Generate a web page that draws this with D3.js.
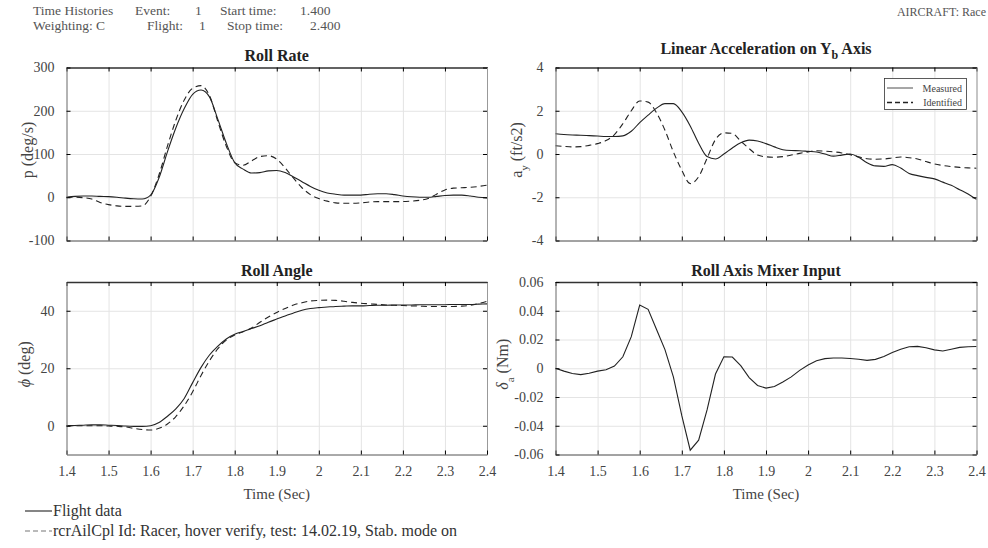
<!DOCTYPE html>
<html>
<head>
<meta charset="utf-8">
<title>Time Histories</title>
<script src="https://d3js.org/d3.v7.min.js"></script>
<style>
body { margin: 0; background: #fff; }
svg text { font-family: "Liberation Serif", "DejaVu Serif", serif; fill: #333; }
</style>
</head>
<body>
<svg id="chart" width="988" height="548"></svg>
<script>
// ---- data ----
var time = [1.40,1.42,1.44,1.46,1.48,1.50,1.52,1.54,1.56,1.58,
            1.60,1.62,1.64,1.66,1.68,1.70,1.72,1.74,1.76,1.78,
            1.80,1.82,1.84,1.86,1.88,1.90,1.92,1.94,1.96,1.98,
            2.00,2.02,2.04,2.06,2.08,2.10,2.12,2.14,2.16,2.18,
            2.20,2.22,2.24,2.26,2.28,2.30,2.32,2.34,2.36,2.38,2.40];

var rollRateFlight = [0,2,3,3,2,1.5,0,-2,-3.5,-4,
                      5,45,105,160,205,238,248,232,180,125,
                      80,65,56,57,61,62,57,47,36,25,
                      16,10,7,5,5,5,7,8,8,6,
                      3,1,0,0,2,4,5,5,3,0,-1.5];
var rollRateModel = [0,0,-1,-4,-12,-17,-20,-21,-21,-20,
                     2,52,118,178,225,252,258,235,175,118,
                     80,74,84,94,96,88,68,44,22,6,
                     -3,-9,-13,-14,-14,-13,-11,-10,-10,-10,
                     -10,-9,-7,-3,7,17,21,22,23,25,28];

var accelFlight = [0.94,0.90,0.88,0.87,0.85,0.83,0.81,0.81,0.84,1.05,
                   1.45,1.80,2.12,2.33,2.33,1.95,1.30,0.50,-0.12,-0.23,
                   0.0,0.28,0.52,0.64,0.60,0.48,0.33,0.20,0.16,0.15,
                   0.12,0.09,0.0,-0.10,-0.05,0.0,-0.15,-0.40,-0.55,-0.57,
                   -0.49,-0.65,-0.90,-1.0,-1.08,-1.15,-1.30,-1.45,-1.65,-1.85,-2.1];
var accelModel = [0.38,0.35,0.33,0.34,0.40,0.48,0.62,0.90,1.40,2.0,
                  2.45,2.40,1.90,1.10,0.10,-0.75,-1.37,-1.05,-0.20,0.67,
                  0.98,0.95,0.60,0.25,-0.05,-0.13,-0.15,-0.12,-0.05,0.03,
                  0.10,0.15,0.13,0.10,0.05,-0.03,-0.13,-0.22,-0.24,-0.23,
                  -0.18,-0.14,-0.17,-0.23,-0.35,-0.46,-0.53,-0.58,-0.62,-0.64,-0.66];

var rollAngleFlight = [0,0.1,0.2,0.3,0.3,0.2,0.1,-0.1,-0.2,-0.2,
                       0,1.1,3.3,5.9,9.5,15,20.3,24.6,27.7,30.2,
                       31.8,32.8,33.8,34.8,36,37.1,38.2,39.2,40.2,40.8,
                       41.1,41.3,41.5,41.6,41.7,41.7,41.8,41.9,41.9,42.0,
                       42.0,42.0,42.1,42.1,42.1,42.1,42.2,42.2,42.2,42.3,42.4];
var rollAngleModel = [0,0,0,0,0,-0.1,-0.2,-0.4,-0.9,-1.3,
                      -1.5,-0.9,0.6,3.2,7.0,11.8,17.5,22.6,26.8,29.8,
                      31.6,32.7,34.0,36.0,37.8,39.4,40.8,42.0,42.8,43.4,
                      43.6,43.7,43.6,43.3,42.9,42.6,42.4,42.2,42.0,41.9,
                      41.8,41.7,41.6,41.5,41.5,41.5,41.5,41.6,41.9,42.5,43.3];

var mixerInput = [0,-0.002,-0.0037,-0.0044,-0.0035,-0.002,-0.001,0.0015,0.008,0.022,
                  0.044,0.041,0.027,0.013,-0.006,-0.033,-0.057,-0.050,-0.029,-0.004,
                  0.008,0.0078,0.0018,-0.0065,-0.012,-0.0138,-0.0127,-0.0095,-0.006,-0.0015,
                  0.0023,0.0052,0.0067,0.0071,0.0071,0.0068,0.0063,0.0055,0.0062,0.0082,
                  0.011,0.0132,0.015,0.0152,0.0143,0.0128,0.012,0.0132,0.0145,0.015,0.0151];

var timeTicks = [1.4,1.5,1.6,1.7,1.8,1.9,2.0,2.1,2.2,2.3,2.4];
var rollRateTicks = [-100,0,100,200,300];
var accelTicks = [-4,-2,0,2,4];
var rollAngleTicks = [0,20,40];
var mixerTicks = [-0.06,-0.04,-0.02,0,0.02,0.04,0.06];

var headerRow1 = ["Time Histories", "Event:", "1", "Start time:", "1.400"];
var headerRow2 = ["Weighting: C", "Flight:", "1", "Stop time:", "2.400"];
var aircraft = "AIRCRAFT: Race";
var legendNames = ["Flight data", "rcrAilCpl Id: Racer, hover verify, test: 14.02.19, Stab. mode on"];
var innerLegend = ["Measured", "Identified"];

var svg = d3.select("#chart");

// header
var h1x = [33, 135, 195, 220, 300], h2x = [33, 147, 199, 227, 310];
headerRow1.forEach(function(t, i) {
	svg.append("text").attr("x", h1x[i]).attr("y", 14.5).attr("font-size", 13.5).style("fill", "#555").text(t);
});
headerRow2.forEach(function(t, i) {
	svg.append("text").attr("x", h2x[i]).attr("y", 29.5).attr("font-size", 13.5).style("fill", "#555").text(t);
});
svg.append("text").attr("x", 986).attr("y", 16).attr("text-anchor", "end")
	.attr("font-size", 12).style("fill", "#555").text(aircraft);

function panel(p) {
	var g = svg.append("g");
	var x = d3.scaleLinear().domain([1.4, 2.4]).range([p.left, p.right]);
	var y = d3.scaleLinear().domain(p.yDomain).range([p.bottom, p.top]);
	var w = p.right - p.left, h = p.bottom - p.top;

	// grid
	g.append("g").attr("transform", "translate(0," + p.bottom + ")")
		.call(d3.axisBottom(x).tickValues(timeTicks).tickSize(-h).tickFormat(""))
		.call(function(s) { s.select(".domain").remove(); })
		.selectAll("line").attr("stroke", "#e4e4e4");
	g.append("g").attr("transform", "translate(" + p.left + ",0)")
		.call(d3.axisLeft(y).tickValues(p.yTicks).tickSize(-w).tickFormat(""))
		.call(function(s) { s.select(".domain").remove(); })
		.selectAll("line").attr("stroke", "#e4e4e4");

	// series
	p.series.forEach(function(s) {
		var line = d3.line()
			.x(function(d, i) { return x(time[i]); })
			.y(function(d) { return y(d); })
			.curve(s.curve || d3.curveMonotoneX);
		g.append("path").datum(s.values)
			.attr("fill", "none")
			.attr("stroke", "#222")
			.attr("stroke-width", 1.1)
			.attr("stroke-dasharray", s.dash ? "6,4" : null)
			.attr("d", line);
	});

	// box + inward ticks
	var tk = 4;
	g.append("g").attr("transform", "translate(0," + p.top + ")")
		.call(d3.axisTop(x).tickValues(timeTicks).tickSizeInner(-tk).tickSizeOuter(0).tickFormat(""))
		.call(function(s) { s.select(".domain").attr("stroke", "#333").attr("stroke-width", 1.3); });
	g.append("g").attr("transform", "translate(" + p.right + ",0)")
		.call(d3.axisRight(y).tickValues(p.yTicks).tickSizeInner(-tk).tickSizeOuter(0).tickFormat(""))
		.call(function(s) { s.select(".domain").attr("stroke", "#999"); });
	var bx = g.append("g").attr("transform", "translate(0," + p.bottom + ")")
		.call(d3.axisBottom(x).tickValues(timeTicks).tickSizeInner(-tk).tickSizeOuter(0).tickPadding(12)
			.tickFormat(function(d) { return p.xLabels ? String(+d.toFixed(1)) : ""; }));
	bx.select(".domain").attr("stroke", "#555");
	bx.selectAll("text").attr("font-size", 14).attr("font-family", null).style("fill", "#444");
	var ly = g.append("g").attr("transform", "translate(" + p.left + ",0)")
		.call(d3.axisLeft(y).tickValues(p.yTicks).tickSizeInner(-tk).tickSizeOuter(0).tickPadding(12).tickFormat(p.yFmt));
	ly.select(".domain").attr("stroke", "#777");
	ly.selectAll("text").attr("font-size", 14).attr("font-family", null).style("fill", "#444");

	// title
	var tt = svg.append("text").attr("x", (p.left + p.right) / 2).attr("y", p.titleY)
		.attr("text-anchor", "middle").attr("font-size", 16).attr("font-weight", "bold").style("fill", "#222");
	p.title(tt);

	// y label
	var yl = svg.append("text")
		.attr("transform", "translate(" + p.ylabelX + "," + ((p.top + p.bottom) / 2 - 4) + ") rotate(-90)")
		.attr("text-anchor", "middle").attr("font-size", 16).style("fill", "#444");
	p.ylabel(yl);

	if (p.xLabels) {
		svg.append("text").attr("x", (p.left + p.right) / 2).attr("y", 499)
			.attr("text-anchor", "middle").attr("font-size", 15).style("fill", "#444").text("Time (Sec)");
	}
	return { x: x, y: y };
}

var L = [66.5, 487], R = [555.5, 976.5], T = [67.5, 240.5], B = [282, 454.5];
var fmtInt = function(d) { return String(d); };

panel({
	left: L[0], right: L[1], top: T[0], bottom: T[1],
	yDomain: [-100, 300], yTicks: rollRateTicks, yFmt: fmtInt,
	series: [{ values: rollRateFlight }, { values: rollRateModel, dash: true }],
	titleY: 61, title: function(t) { t.text("Roll Rate"); },
	ylabelX: 33, ylabel: function(t) { t.text("p (deg/s)"); }
});

panel({
	left: R[0], right: R[1], top: T[0], bottom: T[1],
	yDomain: [-4, 4], yTicks: accelTicks, yFmt: fmtInt,
	series: [{ values: accelFlight }, { values: accelModel, dash: true }],
	titleY: 54, title: function(t) {
		t.append("tspan").text("Linear Acceleration on Y");
		t.append("tspan").attr("font-size", 12).attr("dy", 5).text("b");
		t.append("tspan").attr("dy", -5).text(" Axis");
	},
	ylabelX: 522, ylabel: function(t) {
		t.append("tspan").text("a");
		t.append("tspan").attr("font-size", 11).attr("dy", 6).text("y");
		t.append("tspan").attr("dy", -6).text(" (ft/s2)");
	}
});

panel({
	left: L[0], right: L[1], top: B[0], bottom: B[1],
	yDomain: [-10, 50], yTicks: rollAngleTicks, yFmt: fmtInt, xLabels: true,
	series: [{ values: rollAngleFlight }, { values: rollAngleModel, dash: true }],
	titleY: 276, title: function(t) { t.text("Roll Angle"); },
	ylabelX: 30, ylabel: function(t) {
		t.append("tspan").attr("font-style", "italic").text("\u03d5");
		t.append("tspan").text(" (deg)");
	}
});

panel({
	left: R[0], right: R[1], top: B[0], bottom: B[1],
	yDomain: [-0.06, 0.06], yTicks: mixerTicks, xLabels: true,
	yFmt: function(d) { return Math.abs(d) < 1e-9 ? "0" : d.toFixed(2); },
	series: [{ values: mixerInput, curve: d3.curveLinear }],
	titleY: 276, title: function(t) { t.text("Roll Axis Mixer Input"); },
	ylabelX: 508, ylabel: function(t) {
		t.append("tspan").attr("font-style", "italic").text("\u03b4");
		t.append("tspan").attr("font-size", 11).attr("dy", 6).text("a");
		t.append("tspan").attr("dy", -6).text(" (Nm)");
	}
});

// legend inside acceleration panel
var lg = svg.append("g");
lg.append("rect").attr("x", 884.5).attr("y", 78.5).attr("width", 82).attr("height", 31)
	.attr("fill", "#fff").attr("stroke", "#333").attr("stroke-width", 0.8);
innerLegend.forEach(function(name, i) {
	var yy = 88 + i * 14.5;
	lg.append("line").attr("x1", 887).attr("x2", 913).attr("y1", yy).attr("y2", yy)
		.attr("stroke", "#222").attr("stroke-width", i ? 1.3 : 0.8)
		.attr("stroke-dasharray", i ? "5,3" : null);
	lg.append("text").attr("x", 962).attr("y", yy + 3.5).attr("text-anchor", "end")
		.attr("font-size", 10).style("fill", "#444").text(name);
});

// legend at bottom
legendNames.forEach(function(name, i) {
	var yy = 511 + i * 20;
	svg.append("line").attr("x1", 25).attr("x2", 52).attr("y1", yy).attr("y2", yy)
		.attr("stroke", i ? "#777" : "#222").attr("stroke-width", 1.1)
		.attr("stroke-dasharray", i ? "5,3" : null);
	svg.append("text").attr("x", 53).attr("y", yy + 5).attr("font-size", 16).style("fill", "#333").text(name);
});
</script>
</body>
</html>
